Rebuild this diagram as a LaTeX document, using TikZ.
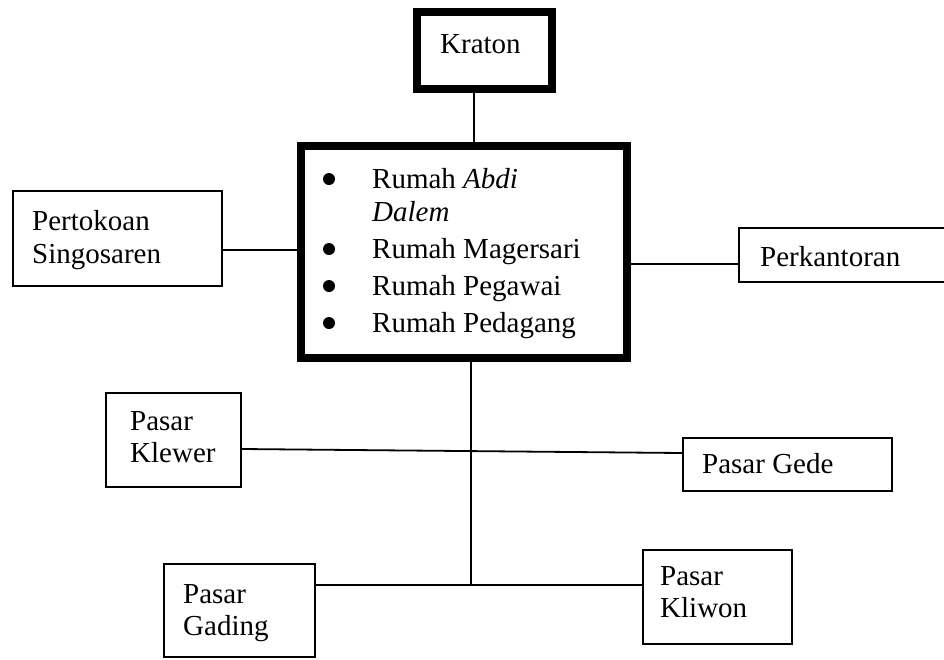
\documentclass[tikz,border=0pt]{standalone}
\usepackage{fontspec}
\setmainfont{Liberation Serif}
\begin{document}
\begin{tikzpicture}[x=1pt,y=-1pt,
  thinbox/.style={draw, line width=2pt, inner sep=0pt},
  thickbox/.style={draw, line width=8pt, inner sep=0pt},
  conn/.style={line width=1.8pt},
  lbl/.style={anchor=base west, inner sep=0pt, font=\fontsize{29}{36}\selectfont},
  bulletdot/.style={circle, fill=black, inner sep=0pt, minimum size=12pt}]
\useasboundingbox[fill=white] (0,0) rectangle (944,659);

% boxes
\node[thickbox, minimum width=135pt, minimum height=77pt] (kraton) at (484.5,50.5) {};
\node[thickbox, minimum width=326pt, minimum height=212pt] (central) at (464,252) {};
\node[thinbox, minimum width=209pt, minimum height=95pt] (pertokoan) at (117.5,238.5) {};
\node[thinbox, minimum width=207pt, minimum height=54pt] (perkantoran) at (842.5,255) {};
\node[thinbox, minimum width=135pt, minimum height=94pt] (klewer) at (173.5,440) {};
\node[thinbox, minimum width=209pt, minimum height=53pt] (gede) at (787.5,464.5) {};
\node[thinbox, minimum width=151pt, minimum height=93pt] (gading) at (239.5,610.5) {};
\node[thinbox, minimum width=149pt, minimum height=94pt] (kliwon) at (717.5,597) {};

% texts
\node[lbl] (tkraton) at (440,53) {Kraton};
\node[bulletdot] (b1) at (329,179) {};
\node[bulletdot] (b2) at (329,249) {};
\node[bulletdot] (b3) at (329,286) {};
\node[bulletdot] (b4) at (329,323) {};
\node[lbl] (t1) at (372,188) {Rumah \textit{Abdi}};
\node[lbl] (t2) at (372,221) {\textit{Dalem}};
\node[lbl] (t3) at (372,258) {Rumah Magersari};
\node[lbl] (t4) at (372,295) {Rumah Pegawai};
\node[lbl] (t5) at (372,332) {Rumah Pedagang};
\node[lbl] (tper1) at (32,230) {Pertokoan};
\node[lbl] (tper2) at (32,263) {Singosaren};
\node[lbl] (tkan) at (760,266) {Perkantoran};
\node[lbl] (tkle1) at (130,430) {Pasar};
\node[lbl] (tkle2) at (130,462) {Klewer};
\node[lbl] (tgede) at (702,473) {Pasar Gede};
\node[lbl] (tgad1) at (183,603) {Pasar};
\node[lbl] (tgad2) at (183,635) {Gading};
\node[lbl] (tkli1) at (660,585) {Pasar};
\node[lbl] (tkli2) at (660,617) {Kliwon};

% helper coordinates
\coordinate (kx) at (474,0);
\coordinate (yL) at (0,250);
\coordinate (yR) at (0,264);
\coordinate (yK) at (0,449);
\coordinate (yG) at (0,453);
\coordinate (jn) at (471,585);

% connectors
\draw[conn] (kraton.south -| kx) -- (central.north -| kx);
\draw[conn] (pertokoan.east |- yL) -- (central.west |- yL);
\draw[conn] (central.east |- yR) -- (perkantoran.west |- yR);
\draw[conn] (central.south -| jn) -- (jn);
\draw[conn] (klewer.east |- yK) -- (gede.west |- yG);
\draw[conn] (gading.east |- jn) -- (kliwon.west |- jn);
\end{tikzpicture}
\end{document}
